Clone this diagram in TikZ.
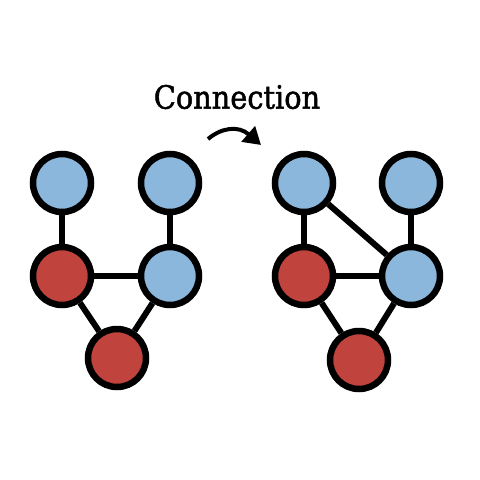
\documentclass[tikz,border=0pt]{standalone}
\usepackage{fontspec}
\setmainfont{DejaVu Serif}
\newfontfamily\titlefont[FakeBold=1.6]{DejaVu Serif}
\usetikzlibrary{arrows.meta}
\definecolor{nodeblue}{RGB}{138,183,219}
\definecolor{nodered}{RGB}{192,68,61}
\tikzset{
  vert/.style={circle, draw=black, line width=6.5pt, minimum size=58pt, inner sep=0pt},
  bluev/.style={vert, fill=nodeblue},
  redv/.style={vert, fill=nodered},
  edge/.style={line width=6pt, draw=black}
}
\begin{document}
\begin{tikzpicture}[x=1pt,y=-1pt]
\useasboundingbox (0,0) rectangle (480,480);
% title
\node (title) at (237,97) {\scalebox{0.9}[1]{\fontsize{32pt}{36pt}\titlefont Connection}};
% arrow
\coordinate (arrS) at (208,139);
\coordinate (arrE) at (261,145);
\draw[line width=4pt, -{Triangle[length=17pt,width=20pt]}] (arrS) .. controls (221,128) and (238,125) .. (arrE);
% left graph
\node[bluev] (a1) at (62,183) {};
\node[bluev] (a2) at (170,183) {};
\node[redv]  (a3) at (62,276) {};
\node[bluev] (a4) at (170,276) {};
\node[redv]  (a5) at (117,358) {};
\draw[edge] (a1) -- (a3);
\draw[edge] (a2) -- (a4);
\draw[edge] (a3) -- (a4);
\draw[edge] (a3) -- (a5);
\draw[edge] (a4) -- (a5);
% right graph
\node[bluev] (b1) at (304,183) {};
\node[bluev] (b2) at (411,183) {};
\node[redv]  (b3) at (304,276) {};
\node[bluev] (b4) at (411,276) {};
\node[redv]  (b5) at (359,360) {};
\draw[edge] (b1) -- (b3);
\draw[edge] (b2) -- (b4);
\draw[edge] (b1) -- (b4);
\draw[edge] (b3) -- (b4);
\draw[edge] (b3) -- (b5);
\draw[edge] (b4) -- (b5);
\end{tikzpicture}
\end{document}
